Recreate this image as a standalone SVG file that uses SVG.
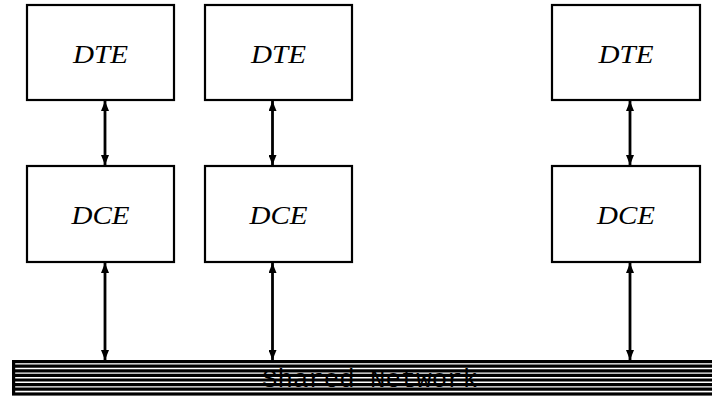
<svg xmlns="http://www.w3.org/2000/svg" width="712" height="398" viewBox="0 0 712 398">
<style>
.box{fill:#fff;stroke:#000;stroke-width:2.2}
.lbl{font-family:"Liberation Serif","Times New Roman",serif;font-style:italic;font-size:25px;text-anchor:middle;fill:#000}
.con{stroke:#000;stroke-width:2.8;fill:none}
.net{stroke:#000;stroke-width:3.2}
</style>
<defs>
<marker id="ah" viewBox="0 0 10 10" refX="10" refY="5" markerWidth="10" markerHeight="8" orient="auto-start-reverse" markerUnits="userSpaceOnUse" preserveAspectRatio="none">
<path d="M0,0 L10,5 L0,10 z" fill="#000"/>
</marker>
</defs>
<g id="dte1"><rect class="box" x="27" y="5" width="147" height="95"/><text class="lbl" x="100.5" y="63" textLength="55" lengthAdjust="spacingAndGlyphs">DTE</text></g>
<g id="dte2"><rect class="box" x="205" y="5" width="147" height="95"/><text class="lbl" x="278.5" y="63" textLength="55" lengthAdjust="spacingAndGlyphs">DTE</text></g>
<g id="dte3"><rect class="box" x="552" y="5" width="148" height="95"/><text class="lbl" x="626" y="63" textLength="55" lengthAdjust="spacingAndGlyphs">DTE</text></g>
<g id="dce1"><rect class="box" x="27" y="166" width="147" height="96"/><text class="lbl" x="100.5" y="224" textLength="58" lengthAdjust="spacingAndGlyphs">DCE</text></g>
<g id="dce2"><rect class="box" x="205" y="166" width="147" height="96"/><text class="lbl" x="278.5" y="224" textLength="58" lengthAdjust="spacingAndGlyphs">DCE</text></g>
<g id="dce3"><rect class="box" x="552" y="166" width="148" height="96"/><text class="lbl" x="626" y="224" textLength="58" lengthAdjust="spacingAndGlyphs">DCE</text></g>
<g id="network">
<rect x="13.6" y="361.6" width="710" height="32.4" fill="#fff" stroke="#000" stroke-width="3.2"/>
<line class="net" x1="13" y1="366.2" x2="712" y2="366.2"/>
<line class="net" x1="13" y1="370.8" x2="712" y2="370.8"/>
<line class="net" x1="13" y1="375.4" x2="712" y2="375.4"/>
<line class="net" x1="13" y1="380" x2="712" y2="380"/>
<line class="net" x1="13" y1="384.6" x2="712" y2="384.6"/>
<line class="net" x1="13" y1="389.2" x2="712" y2="389.2"/>
<text x="370" y="387" font-family="'Liberation Mono','Courier New',monospace" font-size="25.7" text-anchor="middle" fill="#000">Shared Network</text>
</g>
<g id="connectors">
<line class="con" x1="105" y1="101" x2="105" y2="165" marker-start="url(#ah)" marker-end="url(#ah)"/>
<line class="con" x1="272.5" y1="101" x2="272.5" y2="165" marker-start="url(#ah)" marker-end="url(#ah)"/>
<line class="con" x1="630" y1="101" x2="630" y2="165" marker-start="url(#ah)" marker-end="url(#ah)"/>
<line class="con" x1="105" y1="263" x2="105" y2="360" marker-start="url(#ah)" marker-end="url(#ah)"/>
<line class="con" x1="272.5" y1="263" x2="272.5" y2="360" marker-start="url(#ah)" marker-end="url(#ah)"/>
<line class="con" x1="630" y1="263" x2="630" y2="360" marker-start="url(#ah)" marker-end="url(#ah)"/>
</g>
</svg>
